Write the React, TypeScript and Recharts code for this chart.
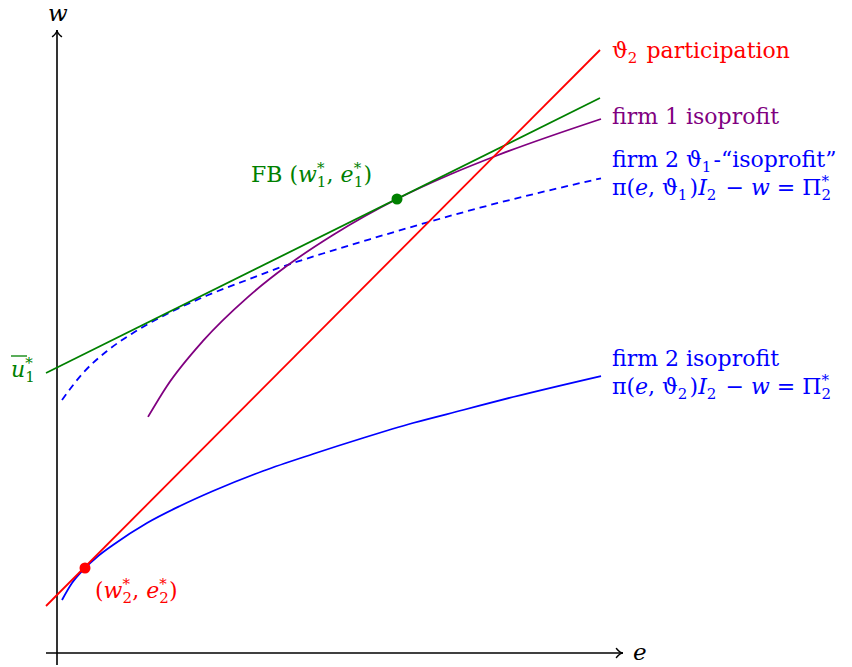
import React from 'react';
import { LineChart, Line, XAxis, YAxis, ReferenceLine, ReferenceDot } from 'recharts';

// effort e and wage w (plot units, axes cross at 0,0)
const participationE = [-0.11, 5.43];
const participationW = [0.47, 6.03];

const firstBestE = [-0.11, 5.43];
const firstBestW = [2.8, 5.55];

const firm1E = [0.91, 1.1, 1.46, 1.9, 2.3, 2.76, 3.4, 3.93, 4.4, 5.44];
const firm1W = [2.361, 2.671, 3.121, 3.552, 3.872, 4.18, 4.54, 4.785, 4.975, 5.34];

const firm2Theta1E = [0.05, 0.26, 0.5, 0.76, 1.16, 1.5, 1.9, 2.23, 2.66, 3.16, 3.63, 4.23, 5.44];
const firm2Theta1W = [2.53, 2.8, 3.02, 3.2, 3.42, 3.575, 3.73, 3.855, 3.995, 4.147, 4.285, 4.453, 4.747];

const firm2E = [0.05, 0.15, 0.28, 0.4, 0.56, 0.9, 1.23, 1.56, 2.06, 2.56, 3.06, 3.56, 4.06, 4.56, 5.44];
const firm2W = [0.53, 0.7, 0.85, 0.96, 1.08, 1.3, 1.47, 1.62, 1.82, 1.99, 2.15, 2.3, 2.43, 2.56, 2.77];

const secondBest = { e: 0.28, w: 0.85 };
const firstBest = { e: 3.4, w: 4.54 };

const xDomain = [-0.17, 5.83];
const yDomain = [-0.14, 6.33];

const RED = '#ff0000';
const GREEN = '#008000';
const PURPLE = '#800080';
const BLUE = '#0000ff';
const FONT = '"DejaVu Serif", serif';

const toPoints = (es: number[], ws: number[]) => es.map((e, i) => ({ e, w: ws[i] }));

// axis line with a latex-style "->" tip
const ArrowShape = (props: any) => {
    const { x1, y1, x2, y2 } = props;
    const ang = Math.atan2(y2 - y1, x2 - x1);
    const len = 8;
    const spread = 0.6;
    const ax = x2 - len * Math.cos(ang - spread);
    const ay = y2 - len * Math.sin(ang - spread);
    const bx = x2 - len * Math.cos(ang + spread);
    const by = y2 - len * Math.sin(ang + spread);
    const cx = x2 - 3 * Math.cos(ang);
    const cy = y2 - 3 * Math.sin(ang);
    return (
        <g>
            <line x1={x1} y1={y1} x2={x2} y2={y2} stroke="#000" strokeWidth={1.6} />
            <path d={`M${ax},${ay} Q${cx},${cy} ${x2},${y2} Q${cx},${cy} ${bx},${by}`}
                fill="none" stroke="#000" strokeWidth={1.4} strokeLinecap="round" />
        </g>
    );
};

// little helpers for math-ish text
const I = ({ children }: { children: React.ReactNode }) => <tspan fontStyle="italic">{children}</tspan>;
const Sub = ({ s }: { s: string }) => (
    <>
        <tspan dy={5} fontSize={15}>{s}</tspan>
        <tspan dy={-5}>{'\u200A'}</tspan>
    </>
);
const SubSup = ({ s }: { s: string }) => (
    <>
        <tspan dy={5} fontSize={15}>{s}</tspan>
        <tspan dx={-9.5} dy={-14} fontSize={15}>*</tspan>
        <tspan dy={9}>{'\u200A'}</tspan>
    </>
);

const Labels = () => (
    <svg width={852} height={667} style={{ position: 'absolute', left: 0, top: 0, pointerEvents: 'none' }}>
        <g fontFamily={FONT} fontSize={22}>
            <text x={48} y={21} fontSize={23}><I>w</I></text>
            <text x={633} y={660} fontSize={23}><I>e</I></text>

            <text x={612} y={58} fill={RED}>ϑ<Sub s="2" /> participation</text>
            <text x={612} y={124} fill={PURPLE}>firm 1 isoprofit</text>
            <text x={612} y={167} fill={BLUE}>firm 2 ϑ<Sub s="1" />-“isoprofit”</text>
            <text x={612} y={195} fill={BLUE}>π(<I>e</I>, ϑ<Sub s="1" />)<I>I</I><Sub s="2" /> − <I>w</I> = Π<SubSup s="2" /></text>
            <text x={612} y={366} fill={BLUE}>firm 2 isoprofit</text>
            <text x={612} y={394} fill={BLUE}>π(<I>e</I>, ϑ<Sub s="2" />)<I>I</I><Sub s="2" /> − <I>w</I> = Π<SubSup s="2" /></text>

            <text x={251} y={182} fill={GREEN}>FB (<I>w</I><SubSup s="1" />, <I>e</I><SubSup s="1" />)</text>
            <text x={95} y={598} fill={RED}>(<I>w</I><SubSup s="2" />, <I>e</I><SubSup s="2" />)</text>

            <text x={11} y={377} fill={GREEN}><I>u</I><SubSup s="1" /></text>
            <line x1={11} y1={356} x2={27} y2={356} stroke={GREEN} strokeWidth={1.3} />
        </g>
    </svg>
);

const App: React.FC = () => {
    return (
        <div style={{ position: 'absolute', left: 0, top: 0, width: 852, height: 667, background: '#fff' }}>
            <LineChart width={852} height={667} margin={{ top: 20, right: 212, bottom: 0, left: 40 }}>
                <XAxis type="number" dataKey="e" domain={xDomain} allowDataOverflow hide />
                <YAxis type="number" dataKey="w" domain={yDomain} allowDataOverflow hide width={0} />

                <ReferenceLine segment={[{ x: -0.11, y: 0 }, { x: 5.66, y: 0 }]} shape={ArrowShape} ifOverflow="visible" />
                <ReferenceLine segment={[{ x: 0, y: -0.12 }, { x: 0, y: 6.23 }]} shape={ArrowShape} ifOverflow="visible" />

                <Line data={toPoints(firm2E, firm2W)} dataKey="w" type="monotone" stroke={BLUE} strokeWidth={1.8}
                    dot={false} isAnimationActive={false} />
                <Line data={toPoints(firm2Theta1E, firm2Theta1W)} dataKey="w" type="monotone" stroke={BLUE} strokeWidth={1.8}
                    strokeDasharray="7 5" dot={false} isAnimationActive={false} />
                <Line data={toPoints(firm1E, firm1W)} dataKey="w" type="monotone" stroke={PURPLE} strokeWidth={1.8}
                    dot={false} isAnimationActive={false} />
                <Line data={toPoints(firstBestE, firstBestW)} dataKey="w" type="linear" stroke={GREEN} strokeWidth={1.8}
                    dot={false} isAnimationActive={false} />
                <Line data={toPoints(participationE, participationW)} dataKey="w" type="linear" stroke={RED} strokeWidth={1.8}
                    dot={false} isAnimationActive={false} />

                <ReferenceDot x={secondBest.e} y={secondBest.w} r={5.5} fill={RED} stroke="none" />
                <ReferenceDot x={firstBest.e} y={firstBest.w} r={5.5} fill={GREEN} stroke="none" />
            </LineChart>
            <Labels />
        </div>
    );
};

export default App;
